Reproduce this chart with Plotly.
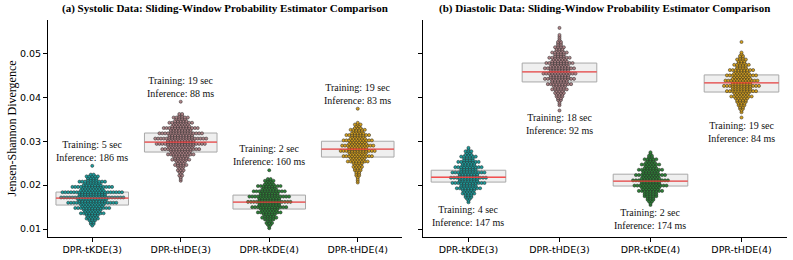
import plotly.graph_objects as go
from plotly.subplots import make_subplots

# ---------------- data ----------------
categories = ["DPR-tKDE(3)", "DPR-tHDE(3)", "DPR-tKDE(4)", "DPR-tHDE(4)"]
colors = ["#1c9f9f", "#b08488", "#2e8438", "#d6a11e"]

ROW_STEP = 0.0004  # value resolution of swarm rows

# Systolic: swarm rows (count of points per value row, starting at *_start)
sys_start = [0.0108, 0.0210, 0.0102, 0.0206]
sys_counts_tkde3 = [1, 2, 2, 3, 5, 4, 5, 9, 6, 7,
                    13, 8, 9, 18, 10, 11, 23, 10, 10, 22,
                    9, 8, 15, 7, 6, 10, 4, 4, 5, 2,
                    0, 0, 0, 0, 1]
sys_counts_thde3 = [1, 1, 1, 2, 1, 2, 3, 2, 3, 5,
                    3, 4, 7, 5, 6, 10, 7, 8, 14, 9,
                    10, 18, 10, 10, 19, 9, 9, 16, 8, 8,
                    13, 7, 6, 9, 5, 4, 6, 2, 2,
                    0, 0, 0, 0, 0, 0, 1]
sys_counts_tkde4 = [1, 1, 2, 3, 2, 4, 6, 4, 5, 9,
                    6, 7, 13, 8, 8, 16, 8, 8, 15, 7,
                    7, 12, 6, 5, 9, 4, 3, 4, 2,
                    0, 0, 0, 0, 1]
sys_counts_thde4 = [1, 1, 1, 1, 2, 2, 2, 3, 3, 4,
                    3, 4, 8, 5, 6, 11, 6, 7, 13, 7,
                    7, 12, 7, 6, 11, 6, 5, 9, 5, 4,
                    6, 3, 2, 3, 1,
                    0, 0, 0, 0, 0, 0, 0, 1]
sys_q1 = [0.01547, 0.02754, 0.01456, 0.02640]
sys_median = [0.01706, 0.02982, 0.01615, 0.02820]
sys_q3 = [0.01843, 0.03187, 0.01774, 0.03000]
sys_train_sec = [5, 19, 2, 19]
sys_infer_ms = [186, 88, 160, 83]

# Diastolic
dia_start = [0.0161, 0.0370, 0.0155, 0.0354]
dia_counts_tkde3 = [1, 1, 2, 3, 3, 5, 4, 5, 9, 6,
                    6, 12, 7, 7, 13, 7, 7, 12, 6, 6,
                    10, 5, 5, 8, 4, 4, 6, 3, 2, 3,
                    1, 1]
dia_counts_thde3 = [1, 0, 0, 1, 1, 1, 2, 2, 3, 3,
                    4, 3, 6, 4, 5, 9, 6, 6, 11, 7,
                    7, 12, 7, 7, 11, 7, 6, 10, 6, 5,
                    8, 4, 4, 6, 3, 3, 4, 2, 2, 2,
                    1, 1, 1, 1,
                    0, 0, 0, 1]
dia_counts_tkde4 = [1, 1, 2, 3, 3, 5, 5, 5, 9, 6,
                    7, 12, 7, 7, 13, 7, 6, 11, 6, 6,
                    9, 5, 4, 7, 4, 3, 5, 2, 2, 1,
                    1]
dia_counts_thde4 = [1, 0, 0, 1, 1, 2, 2, 3, 3, 4,
                    4, 5, 8, 5, 6, 11, 7, 7, 13, 7,
                    7, 12, 7, 6, 11, 6, 5, 9, 4, 4,
                    6, 3, 3, 4, 2, 2, 1, 1,
                    0, 0, 0, 0, 0, 1]
dia_q1 = [0.0207, 0.0435, 0.0198, 0.0412]
dia_median = [0.0218, 0.0458, 0.0209, 0.0433]
dia_q3 = [0.0234, 0.0478, 0.0225, 0.0451]
dia_train_sec = [4, 18, 2, 19]
dia_infer_ms = [147, 92, 174, 84]

panel_titles = ["(a) Systolic Data: Sliding-Window Probability Estimator Comparison",
                "(b) Diastolic Data: Sliding-Window Probability Estimator Comparison"]
y_ticks = [0.01, 0.02, 0.03, 0.04, 0.05]

# ---------------- figure ----------------
SERIF = "Liberation Serif"
SANS = "DejaVu Sans"
DX = 0.032      # horizontal spacing of swarm points (x units)
BOX_W = 0.82

fig = make_subplots(rows=1, cols=2, shared_yaxes=False, horizontal_spacing=0.03)

panels = [
    (1, sys_start, [sys_counts_tkde3, sys_counts_thde3, sys_counts_tkde4, sys_counts_thde4],
     sys_q1, sys_median, sys_q3, sys_train_sec, sys_infer_ms, "above"),
    (2, dia_start, [dia_counts_tkde3, dia_counts_thde3, dia_counts_tkde4, dia_counts_thde4],
     dia_q1, dia_median, dia_q3, dia_train_sec, dia_infer_ms, "below"),
]

xs_idx = list(range(len(categories)))
for col, starts, counts_all, q1, med, q3, tr, inf, where in panels:
    fig.add_trace(go.Box(x=xs_idx, q1=q1, median=med, q3=q3, lowerfence=q1, upperfence=q3,
                         width=BOX_W, whiskerwidth=0, boxpoints=False,
                         fillcolor="#efefef", line=dict(color="#a8a8a8", width=1),
                         showlegend=False, hoverinfo="skip"), row=1, col=col)
    for i, (start, counts) in enumerate(zip(starts, counts_all)):
        px, py = [], []
        for r, n in enumerate(counts):
            yv = round(start + r * ROW_STEP, 6)
            for j in range(n):
                px.append(i + (j - (n - 1) / 2) * DX)
                py.append(yv)
        fig.add_trace(go.Scatter(x=px, y=py, mode="markers",
                                 marker=dict(size=3.1, color=colors[i],
                                             line=dict(color="#262626", width=0.5)),
                                 showlegend=False, hoverinfo="skip"), row=1, col=col)
        text = f"Training: {tr[i]} sec<br>Inference: {inf[i]} ms"
        xref = "x" if col == 1 else "x2"
        yref = "y" if col == 1 else "y2"
        if where == "above":
            fig.add_annotation(x=i, y=max(py), xref=xref, yref=yref, text=text,
                               showarrow=False, yanchor="bottom", yshift=1,
                               font=dict(family=SERIF, size=10, color="#111"))
        else:
            fig.add_annotation(x=i, y=min(py), xref=xref, yref=yref, text=text,
                               showarrow=False, yanchor="top", yshift=0,
                               font=dict(family=SERIF, size=10, color="#111"))
    # red median lines
    mx, my = [], []
    for i, m in enumerate(med):
        mx += [i - BOX_W / 2, i + BOX_W / 2, None]
        my += [m, m, None]
    fig.add_trace(go.Scatter(x=mx, y=my, mode="lines",
                             line=dict(color="rgba(255,60,60,0.85)", width=1.3),
                             showlegend=False, hoverinfo="skip"), row=1, col=col)

axis_common = dict(showline=True, linecolor="black", linewidth=1, ticks="outside",
                   ticklen=4, tickcolor="black", showgrid=False, zeroline=False,
                   automargin=False)
fig.update_xaxes(**axis_common, range=[-0.5, 3.5], tickvals=xs_idx, ticktext=categories,
                 tickfont=dict(family=SANS, size=9.5, color="black"))
fig.update_xaxes(domain=[0.0, 0.4790], row=1, col=1)
fig.update_xaxes(domain=[0.5074, 1.0], row=1, col=2)
fig.update_yaxes(**axis_common, range=[0.0082, 0.0576], tickvals=y_ticks, tickformat=".2f",
                 tickfont=dict(family=SANS, size=9.5, color="black"))
fig.update_yaxes(title=dict(text="Jensen-Shannon Divergence", standoff=0,
                            font=dict(family=SERIF, size=12, color="black")), row=1, col=1)
fig.update_yaxes(showticklabels=False, matches="y", row=1, col=2)

for k, t in enumerate(panel_titles):
    fig.add_annotation(text=f"<b>{t}</b>", xref="x domain" if k == 0 else "x2 domain",
                       yref="paper", x=0.5, y=1.0, yanchor="bottom", yshift=3,
                       showarrow=False, font=dict(family=SERIF, size=11, color="black"))

fig.update_layout(width=793, height=260, margin=dict(l=48, r=6, t=20, b=23),
                  plot_bgcolor="white", paper_bgcolor="white", hovermode=False)

# remove the browser's default 8px page margin so the figure fills the window
fig.write_html("out.html", config={"displayModeBar": False, "staticPlot": True},
               post_script="document.body.style.margin='0';document.body.style.overflow='hidden';")
